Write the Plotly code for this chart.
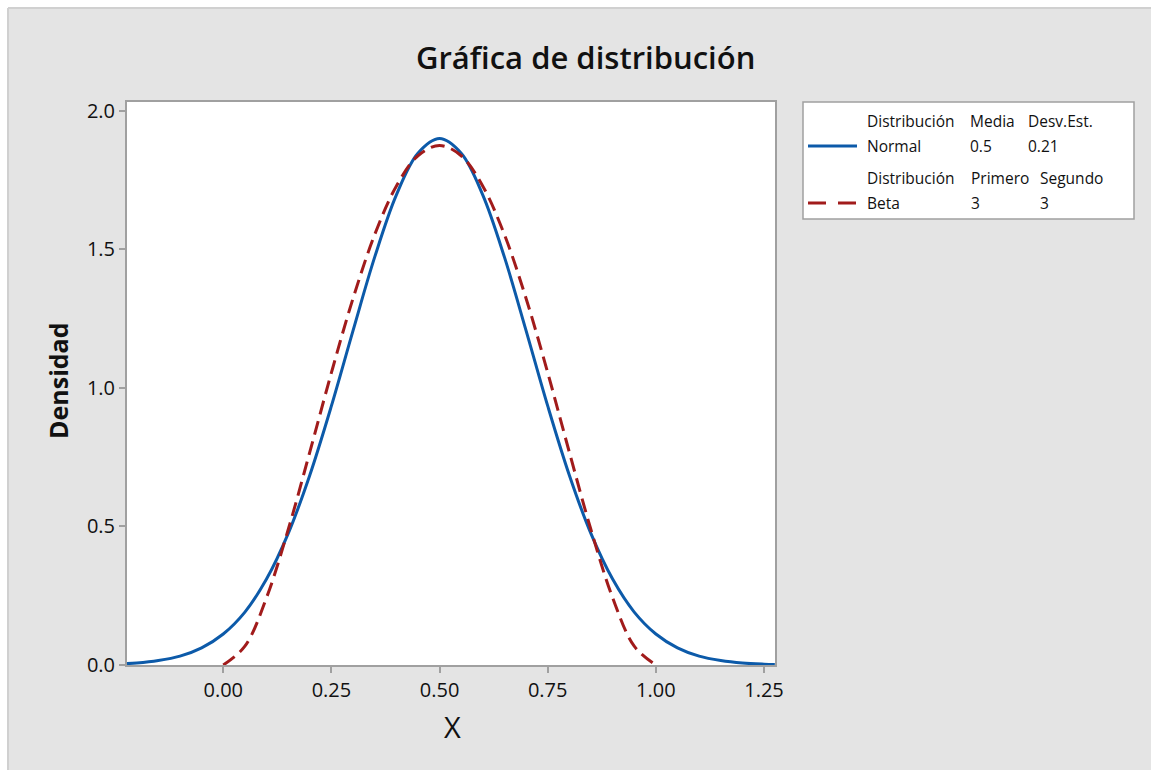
import plotly.graph_objects as go

# ---- data ----
normal_x = [-0.2225, -0.20, -0.15, -0.10, -0.05, 0.00, 0.05, 0.10, 0.15, 0.20, 0.25, 0.30,
            0.35, 0.40, 0.45, 0.50, 0.55, 0.60, 0.65, 0.70, 0.75, 0.80, 0.85, 0.90,
            0.95, 1.00, 1.05, 1.10, 1.15, 1.20, 1.25, 1.275]
normal_y = [0.005, 0.007, 0.016, 0.032, 0.062, 0.112, 0.191, 0.310, 0.474, 0.685, 0.935, 1.207,
            1.472, 1.696, 1.847, 1.900, 1.847, 1.696, 1.472, 1.207, 0.935, 0.685, 0.474, 0.310,
            0.191, 0.112, 0.062, 0.032, 0.016, 0.007, 0.003, 0.002]

beta_x = [0.00, 0.05, 0.10, 0.15, 0.20, 0.25, 0.30, 0.35, 0.40, 0.45, 0.50,
          0.55, 0.60, 0.65, 0.70, 0.75, 0.80, 0.85, 0.90, 0.95, 1.00]
beta_y = [0.000, 0.068, 0.243, 0.488, 0.768, 1.055, 1.323, 1.553, 1.728, 1.838, 1.875,
          1.838, 1.728, 1.553, 1.323, 1.055, 0.768, 0.488, 0.243, 0.068, 0.000]

x_ticks = [0.00, 0.25, 0.50, 0.75, 1.00, 1.25]
y_ticks = [0.0, 0.5, 1.0, 1.5, 2.0]

title_text = "Gráfica de distribución"
x_title = "X"
y_title = "Densidad"
legend_rows = [
    ["Distribución", "Media", "Desv.Est."],
    ["Normal", "0.5", "0.21"],
    ["Distribución", "Primero", "Segundo"],
    ["Beta", "3", "3"],
]

BLUE = "#0c5aa9"
RED = "#a11b1b"
FONT = "Open Sans"
TXT = "#111111"

W, H = 1151, 770
# plot area in page pixels
L, R, T, B = 127, 775, 102, 665


def px(xp):
    return (xp - L) / (R - L)


def py(yp):
    return (B - yp) / (B - T)


fig = go.Figure()
fig.add_trace(go.Scatter(x=normal_x, y=normal_y, mode="lines", name="Normal",
                         line=dict(color=BLUE, width=3, shape="spline")))
fig.add_trace(go.Scatter(x=beta_x, y=beta_y, mode="lines", name="Beta",
                         line=dict(color=RED, width=3, dash="14px,7px", shape="spline")))

shapes = [
    # white outer strips (top and left) with a thin border
    dict(type="rect", xref="paper", yref="paper", x0=px(0), x1=px(W), y0=py(0), y1=py(7),
         fillcolor="white", line=dict(width=0), layer="below"),
    dict(type="rect", xref="paper", yref="paper", x0=px(0), x1=px(8), y0=py(0), y1=py(H),
         fillcolor="white", line=dict(width=0), layer="below"),
    dict(type="line", xref="paper", yref="paper", x0=px(8), x1=px(W), y0=py(8), y1=py(8),
         line=dict(color="#d0d0d0", width=2), layer="below"),
    dict(type="line", xref="paper", yref="paper", x0=px(8), x1=px(8), y0=py(8), y1=py(H),
         line=dict(color="#d0d0d0", width=2), layer="below"),
    # legend box
    dict(type="rect", xref="paper", yref="paper", x0=px(803), x1=px(1134), y0=py(102), y1=py(219),
         fillcolor="white", line=dict(color="#a0a0a0", width=1.5), layer="below"),
    # legend line samples
    dict(type="line", xref="paper", yref="paper", x0=px(808), x1=px(857), y0=py(146), y1=py(146),
         line=dict(color=BLUE, width=3)),
    dict(type="line", xref="paper", yref="paper", x0=px(808), x1=px(857), y0=py(203), y1=py(203),
         line=dict(color=RED, width=3, dash="18px,12px")),
]

annotations = []
col_x = [[865, 968, 1026], [865, 968, 1026], [865, 969, 1038], [865, 969, 1038]]
row_y = [121, 146, 178, 203]
for r, row in enumerate(legend_rows):
    for c, txt in enumerate(row):
        annotations.append(dict(text=txt, xref="paper", yref="paper", x=px(col_x[r][c]), y=py(row_y[r]),
                                xanchor="left", yanchor="middle", showarrow=False,
                                font=dict(family=FONT, size=15.5, color=TXT)))

annotations.append(dict(text=title_text, xref="paper", yref="paper", x=px(585), y=py(57),
                        xanchor="center", yanchor="middle", showarrow=False,
                        font=dict(family=FONT, size=31, color=TXT, weight=600)))
annotations.append(dict(text=x_title, xref="paper", yref="paper", x=px(452), y=py(726),
                        xanchor="center", yanchor="middle", showarrow=False,
                        font=dict(family=FONT, size=29, color=TXT)))
annotations.append(dict(text=y_title, xref="paper", yref="paper", x=px(58), y=py(381),
                        xanchor="center", yanchor="middle", showarrow=False, textangle=-90,
                        font=dict(family=FONT, size=25, color=TXT, weight="bold")))

fig.update_layout(
    width=W, height=H,
    margin=dict(l=L, r=W - R, t=T, b=H - B, pad=0),
    paper_bgcolor="#e4e4e4",
    plot_bgcolor="white",
    showlegend=False,
    shapes=shapes,
    annotations=annotations,
    font=dict(family=FONT, size=20, color=TXT),
)
fig.update_xaxes(range=[-0.2225, 1.2754], tickvals=x_ticks, tickformat=".2f",
                 showgrid=False, zeroline=False, showline=True, mirror=True,
                 linecolor="#a0a0a0", linewidth=2, ticks="outside", ticklen=6,
                 tickcolor="#a0a0a0", tickwidth=1.5, tickfont=dict(size=20, family=FONT, color=TXT))
fig.update_yaxes(range=[0, 2.032], tickvals=y_ticks, tickformat=".1f",
                 showgrid=False, zeroline=False, showline=True, mirror=True,
                 linecolor="#a0a0a0", linewidth=2, ticks="outside", ticklen=6,
                 tickcolor="#a0a0a0", tickwidth=1.5, tickfont=dict(size=20, family=FONT, color=TXT))

fig.write_html("out.html", config={"displayModeBar": False},
               post_script="document.body.style.margin='0';document.body.style.overflow='hidden';")
